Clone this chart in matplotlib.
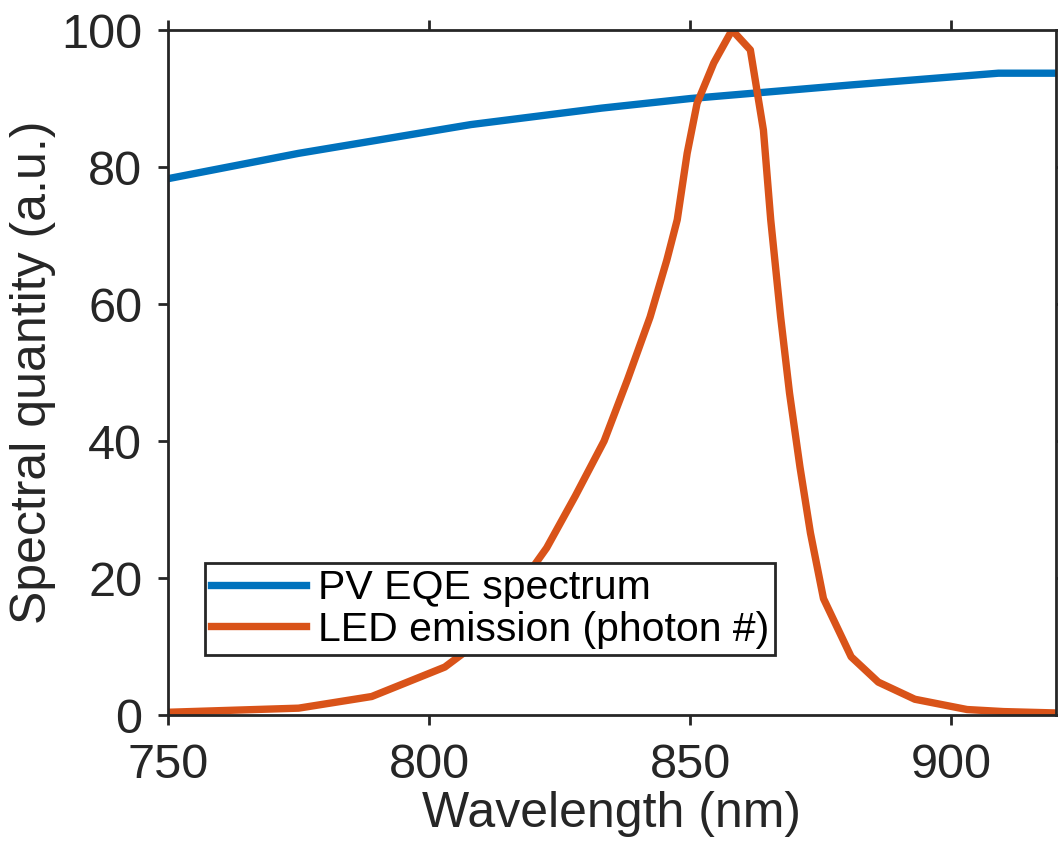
import numpy as np
import matplotlib.pyplot as plt

# PV EQE spectrum
eqe_wl = [750, 775, 808, 833, 850, 881, 909, 920]
eqe_val = [78.3, 82.0, 86.2, 88.6, 90.0, 92.0, 93.7, 93.7]

# LED emission (photon #)
led_wl = [750, 775, 789, 803, 810, 822.5, 828, 833.5, 838, 842.3, 845.5, 847.5,
          849.4, 851.3, 854.5, 858, 861.5, 864, 865.4, 867.3, 869, 871, 873,
          875.5, 880.8, 886, 893, 903, 910, 920]
led_val = [0.4, 1.0, 2.7, 7.0, 11.0, 24.4, 32.0, 40.0, 49.0, 58.1, 66.4, 72.3,
           82.0, 89.3, 95.2, 100.0, 97.1, 85.4, 72.3, 58.1, 47.0, 36.2, 26.6,
           17.0, 8.5, 4.8, 2.3, 0.8, 0.5, 0.3]

plt.rcParams['font.family'] = ['Liberation Sans', 'DejaVu Sans']
fig = plt.figure(figsize=(10.58, 8.51), dpi=100)
ax = fig.add_axes([0.1588, 0.1598, 0.8392, 0.8049])

ax.plot(eqe_wl, eqe_val, color='#0072BD', linewidth=5.3, label='PV EQE spectrum')
ax.plot(led_wl, led_val, color='#D95319', linewidth=5.3, label='LED emission (photon #)')

ax.set_xlim(750, 920)
ax.set_ylim(0, 100)
ax.set_xticks([750, 800, 850, 900])
ax.set_yticks([0, 20, 40, 60, 80, 100])
ax.tick_params(direction='out', length=7.5, width=2, labelsize=35, colors='#262626',
               top=True, right=True)
ax.tick_params(axis='x', pad=13)
ax.tick_params(axis='y', pad=11)
for s in ax.spines.values():
    s.set_linewidth(2)
    s.set_color('#262626')

ax.set_xlabel('Wavelength (nm)', fontsize=36, color='#262626', labelpad=2)
ax.set_ylabel('Spectral quantity (a.u.)', fontsize=36, color='#262626', labelpad=4)

leg = ax.legend(loc='lower left', bbox_to_anchor=(0.042, 0.088), borderaxespad=0,
                fontsize=29.5, fancybox=False, framealpha=1, handlelength=2.3,
                borderpad=0.15, labelspacing=0.08, handletextpad=0.3)
leg.get_frame().set_edgecolor('#262626')
leg.get_frame().set_linewidth(2)

plt.savefig('out.png', dpi=100)
